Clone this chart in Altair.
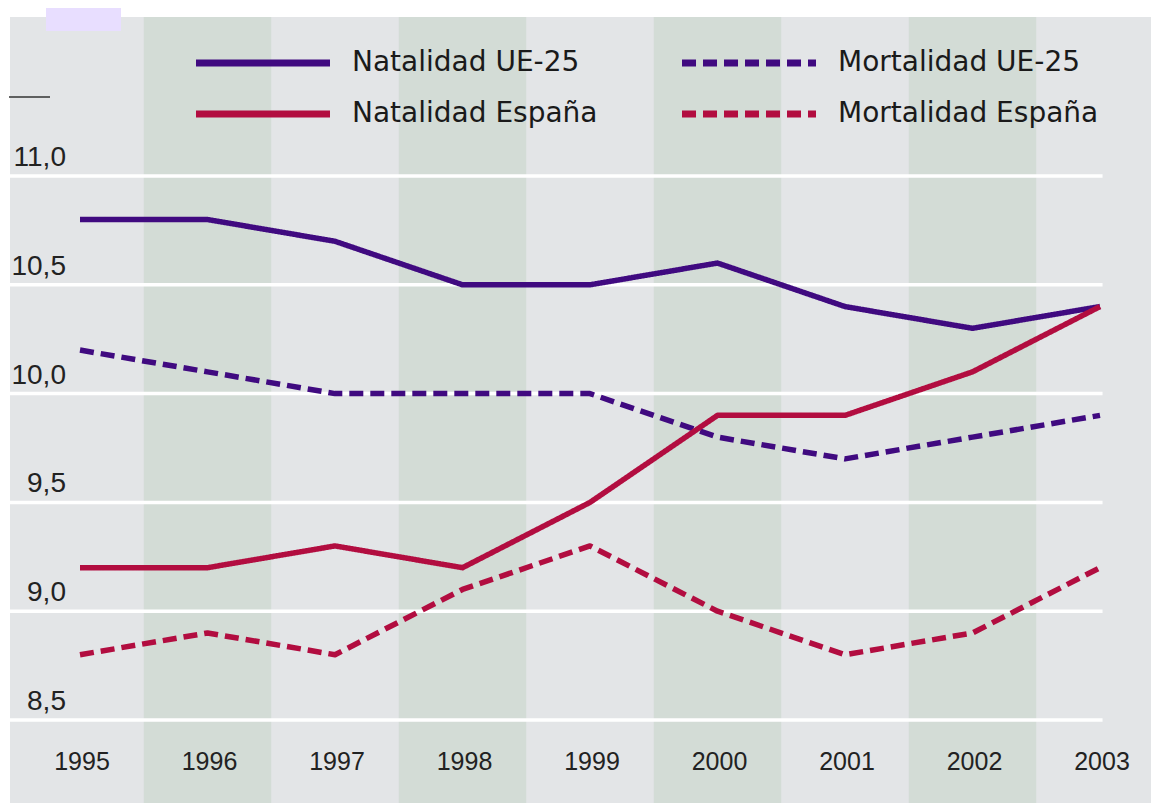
import altair as alt
import pandas as pd

# ---------------- data ----------------
years = [1995, 1996, 1997, 1998, 1999, 2000, 2001, 2002, 2003]
natalidad_ue = [10.8, 10.8, 10.7, 10.5, 10.5, 10.6, 10.4, 10.3, 10.4]
mortalidad_ue = [10.2, 10.1, 10.0, 10.0, 10.0, 9.8, 9.7, 9.8, 9.9]
natalidad_es = [9.2, 9.2, 9.3, 9.2, 9.5, 9.9, 9.9, 10.1, 10.4]
mortalidad_es = [8.8, 8.9, 8.8, 9.1, 9.3, 9.0, 8.8, 8.9, 9.2]
series_names = ["Natalidad UE-25", "Mortalidad UE-25", "Natalidad España", "Mortalidad España"]
band_years = [1996, 1998, 2000, 2002]
y_ticks = [8.5, 9.0, 9.5, 10.0, 10.5, 11.0]
y_tick_labels = ["8,5", "9,0", "9,5", "10,0", "10,5", "11,0"]
year_labels = [str(y) for y in years]

# ---------------- layout ----------------
W, H = 1141, 786
X_DOMAIN = [1994.451, 2003.400]
Y_DOMAIN = [8.1186, 11.7307]
GRID_END = 2003.02
YLABEL_X = 1994.89
XLABEL_Y = 8.307

PURPLE = "#400a80"
CRIMSON = "#b20d40"

xs = alt.Scale(domain=X_DOMAIN, nice=False, zero=False)
ys = alt.Scale(domain=Y_DOMAIN, nice=False, zero=False)

series_values = [natalidad_ue, mortalidad_ue, natalidad_es, mortalidad_es]
rows = []
for name, vals in zip(series_names, series_values):
    for yr, v in zip(years, vals):
        rows.append({"year": yr, "value": v, "serie": name})
lines_df = pd.DataFrame(rows)

bands_df = pd.DataFrame({"x0": [b - 0.5 for b in band_years], "x1": [b + 0.5 for b in band_years]})
grid_df = pd.DataFrame({"v": y_ticks, "x0": [X_DOMAIN[0]] * len(y_ticks), "x1": [GRID_END] * len(y_ticks)})
ylab_df = pd.DataFrame({"v": y_ticks, "label": y_tick_labels, "x": [YLABEL_X] * len(y_ticks)})
xlab_df = pd.DataFrame({"year": years, "label": year_labels, "y": [XLABEL_Y] * len(years)})

bands = alt.Chart(bands_df).mark_rect(color="#d3dcd6").encode(
    x=alt.X("x0:Q", scale=xs, axis=None),
    x2="x1:Q",
    y=alt.value(0),
    y2=alt.value(H),
)

grid = alt.Chart(grid_df).mark_rule(color="white", strokeWidth=3.5).encode(
    x=alt.X("x0:Q", scale=xs, axis=None),
    x2="x1:Q",
    y=alt.Y("v:Q", scale=ys, axis=None),
)

lines = alt.Chart(lines_df).mark_line(strokeWidth=5.5, strokeJoin="round").encode(
    x=alt.X("year:Q", scale=xs, axis=None),
    y=alt.Y("value:Q", scale=ys, axis=None),
    color=alt.Color("serie:N", title=None,
                    scale=alt.Scale(domain=series_names, range=[PURPLE, PURPLE, CRIMSON, CRIMSON])),
    strokeDash=alt.StrokeDash("serie:N", title=None,
                              scale=alt.Scale(domain=series_names,
                                              range=[[1, 0], [14, 7], [1, 0], [14, 7]])),
    detail="serie:N",
)

ylabels = alt.Chart(ylab_df).mark_text(
    align="right", baseline="alphabetic", dy=-10, fontSize=28,
    font="Liberation Sans", color="#222222"
).encode(
    x=alt.X("x:Q", scale=xs, axis=None),
    y=alt.Y("v:Q", scale=ys, axis=None),
    text="label:N",
)

xlabels = alt.Chart(xlab_df).mark_text(
    align="center", baseline="middle", dx=2, fontSize=25,
    font="Liberation Sans", color="#222222"
).encode(
    x=alt.X("year:Q", scale=xs, axis=None),
    y=alt.Y("y:Q", scale=ys, axis=None),
    text="label:N",
)

short_rule = alt.Chart(pd.DataFrame({"k": [0]})).mark_rule(color="#333333", strokeWidth=1.5).encode(
    x=alt.value(-1), x2=alt.value(40), y=alt.value(80)
)
corner = alt.Chart(pd.DataFrame({"k": [0]})).mark_rect(color="#e8deff").encode(
    x=alt.value(36), x2=alt.value(111), y=alt.value(-9), y2=alt.value(14)
)

chart = alt.layer(bands, grid, lines, ylabels, xlabels, short_rule, corner).properties(
    width=W, height=H,
    autosize="none",
    padding={"left": 2, "top": 9, "right": 0, "bottom": 0},
    background="white",
).configure_view(
    fill="#e3e5e7", stroke=None
).configure_legend(
    orient="none", legendX=236, legendY=29, columns=2, direction="horizontal",
    symbolType="M-5,0H5", symbolSize=718, symbolStrokeWidth=7,
    labelFont="DejaVu Sans", labelFontSize=28, labelColor="#1a1a1a",
    labelOffset=72, columnPadding=70, rowPadding=20, padding=0,
    labelLimit=500,
)

chart.save("out.html", embed_options={"renderer": "svg", "actions": False})
